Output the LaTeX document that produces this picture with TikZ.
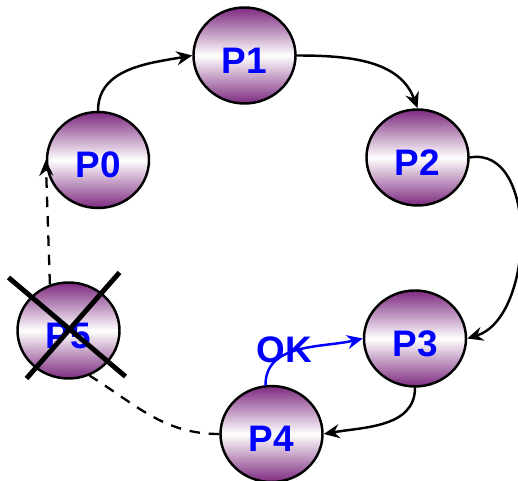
\documentclass[tikz,border=0pt]{standalone}
\usepackage{fontspec}
\setmainfont{Liberation Sans}
\usetikzlibrary{arrows.meta, shapes.geometric}
\definecolor{procpurple}{RGB}{125,42,127}
\definecolor{okblue}{RGB}{0,0,255}

\begin{document}
\begin{tikzpicture}[line join=round, line cap=round,
  proc/.style={draw, ellipse, line width=1.4pt, minimum width=2.04cm, minimum height=1.92cm,
    inner sep=0pt, top color=procpurple, bottom color=procpurple, middle color=white,
    text=okblue, font=\bfseries\fontsize{21}{24}\selectfont, text height=0.72cm, text depth=0cm},
  flow/.style={line width=1.4pt, -{Stealth[length=9pt, width=8pt, inset=3pt]}},
  lost/.style={line width=1.3pt, dash pattern=on 6pt off 5pt, line cap=butt},
  crossline/.style={line width=2.8pt, line cap=butt}]
\useasboundingbox (0,0) rectangle (10.36,9.62);
\coordinate (c0) at (1.96,6.42);
\coordinate (c1) at (4.89,8.51);
\coordinate (c2) at (8.35,6.47);
\coordinate (c3) at (8.30,2.85);
\coordinate (c4) at (5.43,0.94);
\coordinate (c5) at (1.37,3.01);
\node[proc] (P0) at (c0) {P0};
\node[proc] (P1) at (c1) {P1};
\node[proc] (P2) at (c2) {P2};
\node[proc] (P3) at (c3) {P3};
\node[proc] (P4) at (c4) {P4};
\node[proc] (P5) at (c5) {P5};
\draw[flow] (P0.north) to[out=90, in=190] (P1.west);
\draw[flow] (P1.east) to[out=0, in=110] (P2.north);
\draw[flow] (P2.east) to[out=10, in=17, looseness=1.0] (P3.east);
\draw[flow] (P3.south) to[out=-90, in=10] (P4.east);
\draw[flow, okblue] (P4.97) to[out=90, in=193] (P3.west);
\node[text=okblue, font=\bfseries\fontsize{21}{24}\selectfont, inner sep=0pt] (ok) at (5.68,2.62) {OK};
\draw[lost, -{Stealth[length=9pt, width=8pt, inset=3pt]}] (P5.112) -- (P0.west);
\draw[lost] (P4.west) to[out=180, in=-32] (P5.-65);
\draw[crossline] ([shift={(-1.2,1.06)}]P5.center) -- ([shift={(1.14,-0.92)}]P5.center);
\draw[crossline] ([shift={(1.02,1.16)}]P5.center) -- ([shift={(-0.84,-0.96)}]P5.center);
\end{tikzpicture}
\end{document}
